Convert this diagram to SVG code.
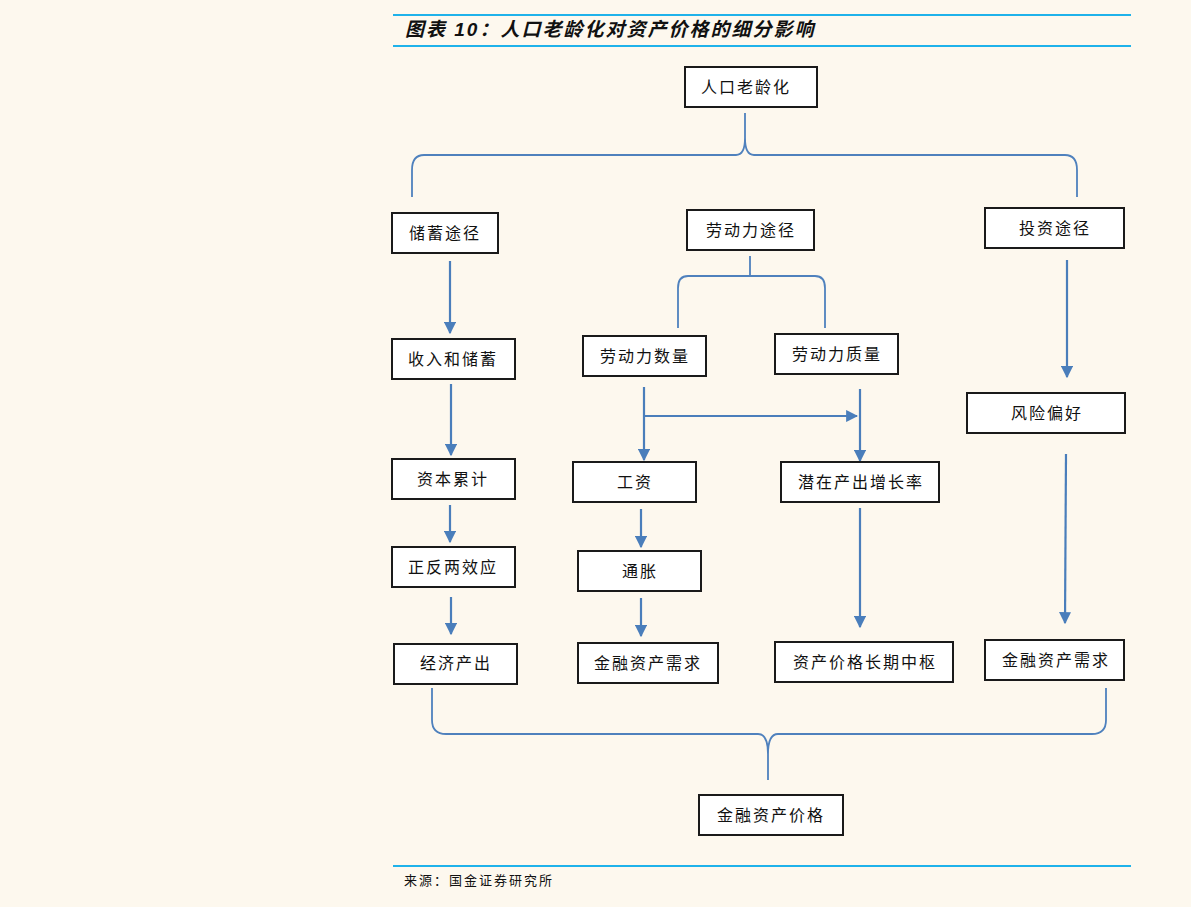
<svg xmlns="http://www.w3.org/2000/svg" width="1191" height="907" viewBox="0 0 1191 907">
<style>
.bg{fill:#fdf8ee}
.rule{stroke:#1fb2ea;stroke-width:2}
.box{fill:#ffffff;stroke:#1a1a1a;stroke-width:2}
.lbl{font-family:"Liberation Serif","Noto Sans CJK SC",serif;font-size:16px;letter-spacing:2px;fill:#111;text-anchor:middle;dominant-baseline:central}
.title{font-family:"Liberation Sans","Noto Sans CJK SC",sans-serif;font-size:19px;font-weight:bold;font-style:italic;fill:#111;letter-spacing:2px}
.src{font-family:"Liberation Serif","Noto Sans CJK SC",serif;font-size:13px;fill:#111;letter-spacing:2px}
.brace{fill:none;stroke:#4f81bd;stroke-width:1.8}
.arr{fill:none;stroke:#4a7ebb;stroke-width:2.2;marker-end:url(#ah)}
</style>
<defs>
<marker id="ah" viewBox="0 0 10 10" refX="9" refY="5" markerWidth="5.5" markerHeight="5.5" orient="auto" markerUnits="strokeWidth">
<path d="M0,0 L10,5 L0,10 Z" fill="#4a7ebb"/>
</marker>
</defs>
<rect class="bg" x="0" y="0" width="1191" height="907"/>
<line class="rule" x1="393" y1="15" x2="1131" y2="15"/>
<line class="rule" x1="393" y1="46" x2="1131" y2="46"/>
<text class="title" x="405" y="36">图表 10：人口老龄化对资产价格的细分影响</text>
<line class="rule" x1="393" y1="866" x2="1131" y2="866"/>
<text class="src" x="404" y="885">来源：国金证券研究所</text>

<g id="connectors">
<path class="brace" d="M412,197 L412,170 Q412,155 424,155 L736,155 Q745,155 745,138 L745,113 M745,138 Q745,155 754,155 L1065,155 Q1077,155 1077,170 L1077,197"/>
<path class="brace" d="M678,328 L678,288 Q678,276 688,276 L815,276 Q825,276 825,288 L825,328 M750,256 L750,276"/>
<path class="brace" d="M432,688 L432,720 Q432,734 446,734 L758,734 Q768,734 768,754 L768,780 M768,754 Q768,734 778,734 L1092,734 Q1106,734 1106,720 L1106,688"/>
<line class="arr" x1="450" y1="261" x2="450" y2="333"/>
<line class="arr" x1="451" y1="384" x2="451" y2="455"/>
<line class="arr" x1="450" y1="505" x2="450" y2="542"/>
<line class="arr" x1="451" y1="597" x2="451" y2="634"/>
<line class="arr" x1="1067" y1="260" x2="1067" y2="377"/>
<line class="arr" x1="1066" y1="454" x2="1065" y2="623"/>
<line class="arr" x1="644" y1="387" x2="644" y2="460"/>
<line class="arr" x1="644" y1="416" x2="857" y2="416"/>
<line class="arr" x1="860" y1="389" x2="860" y2="461"/>
<line class="arr" x1="641" y1="509" x2="641" y2="547"/>
<line class="arr" x1="641" y1="598" x2="641" y2="636"/>
<line class="arr" x1="860" y1="508" x2="860" y2="627"/>
</g>

<g id="n_aging"><rect class="box" x="685" y="67" width="132" height="40"/><text class="lbl" x="746" y="87">人口老龄化</text></g>
<g id="n_saving_path"><rect class="box" x="392" y="213" width="106" height="40"/><text class="lbl" x="445" y="233">储蓄途径</text></g>
<g id="n_labor_path"><rect class="box" x="687" y="210" width="127" height="40"/><text class="lbl" x="751" y="230">劳动力途径</text></g>
<g id="n_invest_path"><rect class="box" x="985" y="208" width="139" height="40"/><text class="lbl" x="1055" y="228">投资途径</text></g>
<g id="n_income"><rect class="box" x="392" y="339" width="123" height="40"/><text class="lbl" x="453" y="359">收入和储蓄</text></g>
<g id="n_labor_qty"><rect class="box" x="583" y="336" width="123" height="40"/><text class="lbl" x="645" y="356">劳动力数量</text></g>
<g id="n_labor_qual"><rect class="box" x="775" y="334" width="123" height="40"/><text class="lbl" x="837" y="354">劳动力质量</text></g>
<g id="n_risk"><rect class="box" x="967" y="393" width="158" height="40"/><text class="lbl" x="1047" y="413">风险偏好</text></g>
<g id="n_capital"><rect class="box" x="392" y="459" width="123" height="40"/><text class="lbl" x="453" y="479">资本累计</text></g>
<g id="n_wage"><rect class="box" x="573" y="462" width="123" height="40"/><text class="lbl" x="635" y="482">工资</text></g>
<g id="n_potential"><rect class="box" x="781" y="462" width="158" height="40"/><text class="lbl" x="861" y="482">潜在产出增长率</text></g>
<g id="n_two_effects"><rect class="box" x="392" y="547" width="123" height="40"/><text class="lbl" x="453" y="567">正反两效应</text></g>
<g id="n_inflation"><rect class="box" x="578" y="551" width="123" height="40"/><text class="lbl" x="640" y="571">通胀</text></g>
<g id="n_output"><rect class="box" x="394" y="644" width="123" height="40"/><text class="lbl" x="456" y="663">经济产出</text></g>
<g id="n_fin_demand_mid"><rect class="box" x="578" y="643" width="140" height="40"/><text class="lbl" x="648" y="663">金融资产需求</text></g>
<g id="n_asset_center"><rect class="box" x="775" y="642" width="178" height="40"/><text class="lbl" x="865" y="662">资产价格长期中枢</text></g>
<g id="n_fin_demand_right"><rect class="box" x="985" y="640" width="139" height="40"/><text class="lbl" x="1056" y="660">金融资产需求</text></g>
<g id="n_fin_price"><rect class="box" x="699" y="795" width="144" height="40"/><text class="lbl" x="771" y="815">金融资产价格</text></g>
</svg>
